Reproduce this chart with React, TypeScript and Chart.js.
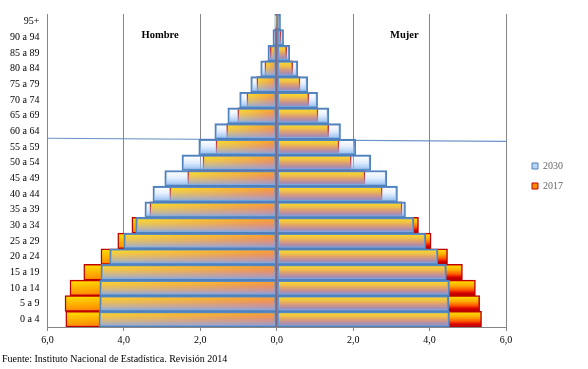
import { useEffect, useRef } from 'react';
import { Chart, registerables } from 'chart.js';

Chart.register(...registerables);

// ---- data (percent of total population) ----
const ageGroups = ['0 a 4', '5 a 9', '10 a 14', '15 a 19', '20 a 24', '25 a 29', '30 a 34', '35 a 39', '40 a 44', '45 a 49', '50 a 54', '55 a 59', '60 a 64', '65 a 69', '70 a 74', '75 a 79', '80 a 84', '85 a 89', '90 a 94', '95+'];
const hombres2017 = [5.52, 5.54, 5.41, 5.05, 4.60, 4.16, 3.79, 3.32, 2.80, 2.33, 1.93, 1.59, 1.31, 1.02, 0.78, 0.52, 0.31, 0.17, 0.05, 0.01];
const mujeres2017 = [5.36, 5.31, 5.20, 4.86, 4.47, 4.04, 3.71, 3.28, 2.76, 2.31, 1.95, 1.63, 1.36, 1.08, 0.84, 0.61, 0.42, 0.26, 0.11, 0.04];
const hombres2030 = [4.65, 4.63, 4.63, 4.60, 4.37, 4.00, 3.69, 3.45, 3.24, 2.93, 2.48, 2.04, 1.62, 1.28, 0.97, 0.68, 0.42, 0.23, 0.10, 0.05];
const mujeres2030 = [4.52, 4.50, 4.52, 4.44, 4.22, 3.90, 3.59, 3.37, 3.16, 2.88, 2.46, 2.07, 1.67, 1.36, 1.07, 0.81, 0.55, 0.34, 0.18, 0.10];
const seriesLabels = ['2030', '2017'];
const sideLabels = ['Hombre', 'Mujer'];
const sideLabelValues = [-3.05, 3.34];
const xMin = -6;
const xMax = 6;
const xStep = 2;
const sourceText = 'Fuente: Instituto Nacional de Estadística. Revisión 2014';

const FONT = '"Liberation Serif", "Times New Roman", serif';
const GRID = '#868686';

function geom(c: any) {
  if (!c || c.type !== 'data') return null;
  const chart = c.chart;
  const xs = chart.scales && chart.scales.x;
  const ys = chart.scales && chart.scales.y;
  if (!xs || !ys) return null;
  const yc = ys.getPixelForValue(c.dataIndex);
  const h = Math.abs(ys.getPixelForValue(1) - ys.getPixelForValue(0));
  const x0 = xs.getPixelForValue(0);
  const x1 = xs.getPixelForValue(c.raw);
  if (![yc, h, x0, x1].every((v) => Number.isFinite(v)) || h === 0) return null;
  return { yc, h, x0, x1, top: yc - h / 2, bottom: yc + h / 2 };
}

function bg2030(c: any) {
  const g = geom(c);
  if (!g) return 'rgba(150,190,240,0.5)';
  const grad = c.chart.ctx.createLinearGradient(0, g.top, 0, g.bottom);
  grad.addColorStop(0, 'rgba(235,243,255,0.08)');
  grad.addColorStop(0.45, 'rgba(185,212,250,0.38)');
  grad.addColorStop(0.8, 'rgba(145,188,240,0.75)');
  grad.addColorStop(1, 'rgba(125,175,238,0.9)');
  return grad;
}

function bgFemale2017(c: any) {
  const g = geom(c);
  if (!g) return '#ff9900';
  const grad = c.chart.ctx.createLinearGradient(0, g.top, 0, g.bottom);
  grad.addColorStop(0, '#ffe400');
  grad.addColorStop(0.35, '#ffb000');
  grad.addColorStop(0.62, '#ff5a00');
  grad.addColorStop(0.82, '#dd0000');
  grad.addColorStop(1, '#9c0000');
  return grad;
}

function bgMale2017(c: any) {
  const g = geom(c);
  if (!g) return '#ff8c00';
  const W = Math.max(1, Math.abs(g.x0 - g.x1));
  const cx = 0.45 / W;
  const cy = 0.55 / g.h;
  const d = cx * cx + cy * cy;
  const ax = Math.min(g.x0, g.x1);
  const ay = g.top;
  const grad = c.chart.ctx.createLinearGradient(ax, ay, ax + cx / d, ay + cy / d);
  grad.addColorStop(0, '#ffe400');
  grad.addColorStop(0.45, '#ff9c00');
  grad.addColorStop(0.75, '#ff5a18');
  grad.addColorStop(1, '#e41a1a');
  return grad;
}

const overlayPlugin = {
  id: 'overlay',
  afterDatasetsDraw(chart: any) {
    const { ctx, chartArea, scales } = chart;
    const x = scales.x;
    const y = scales.y;
    ctx.save();
    // vertical axis at 0
    const x0 = Math.round(x.getPixelForValue(0)) + 0.5;
    ctx.strokeStyle = GRID;
    ctx.lineWidth = 1;
    ctx.beginPath();
    ctx.moveTo(x0, chartArea.top);
    ctx.lineTo(x0, chartArea.bottom);
    ctx.stroke();
    // thin stray line across the plot
    ctx.strokeStyle = 'rgba(79,129,189,0.85)';
    ctx.lineWidth = 1.1;
    ctx.beginPath();
    ctx.moveTo(chartArea.left, y.getPixelForValue(11.56));
    ctx.lineTo(chartArea.right, y.getPixelForValue(11.36));
    ctx.stroke();
    // side labels
    ctx.font = 'bold 10.5px ' + FONT;
    ctx.fillStyle = '#000';
    ctx.textAlign = 'center';
    ctx.textBaseline = 'middle';
    sideLabels.forEach((t, i) => {
      ctx.fillText(t, x.getPixelForValue(sideLabelValues[i]), chartArea.top + 21);
    });
    ctx.restore();
  },
};

export default function App() {
  const ref = useRef<HTMLCanvasElement>(null);
  useEffect(() => {
    if (!ref.current) return;
    const chart = new Chart(ref.current, {
      type: 'bar',
      data: {
        labels: ageGroups,
        datasets: [
          {
            label: seriesLabels[0],
            data: hombres2030.map((v) => -v),
            backgroundColor: bg2030 as any,
            borderColor: '#4f81bd',
            borderWidth: 1.5,
            borderSkipped: false,
          },
          {
            label: seriesLabels[0] + ' M',
            data: mujeres2030,
            backgroundColor: bg2030 as any,
            borderColor: '#4f81bd',
            borderWidth: 1.5,
            borderSkipped: false,
          },
          {
            label: seriesLabels[1],
            data: hombres2017.map((v) => -v),
            backgroundColor: bgMale2017 as any,
            borderColor: '#c00000',
            borderWidth: 1.5,
            borderSkipped: false,
          },
          {
            label: seriesLabels[1] + ' M',
            data: mujeres2017,
            backgroundColor: bgFemale2017 as any,
            borderColor: '#c00000',
            borderWidth: 1.5,
            borderSkipped: false,
          },
        ],
      },
      options: {
        indexAxis: 'y',
        responsive: false,
        animation: false,
        devicePixelRatio: 1,
        datasets: { bar: { barPercentage: 1, categoryPercentage: 1 } },
        layout: { padding: { top: 10, bottom: 20, left: 2, right: 15 } },
        scales: {
          x: {
            min: xMin,
            max: xMax,
            ticks: {
              stepSize: xStep,
              color: '#000',
              padding: 3,
              font: { family: FONT, size: 10 },
              callback: (v: any) => Math.abs(Number(v)).toFixed(1).replace('.', ','),
            },
            grid: { color: GRID, lineWidth: 1, tickLength: 4, drawTicks: true },
            border: { display: true, color: GRID, width: 1 },
          },
          y: {
            stacked: true,
            reverse: true,
            ticks: { color: '#000', padding: 8, font: { family: FONT, size: 10 } },
            grid: { display: false, drawTicks: false },
            border: { display: false },
          },
          yGap: {
            type: 'category',
            position: 'right',
            ticks: { display: false },
            grid: { display: false, drawTicks: false },
            border: { display: false },
            afterFit: (s: any) => {
              s.width = 16;
            },
          },
        },
        plugins: {
          legend: {
            position: 'right',
            fullSize: false,
            title: { display: true, text: ' ', font: { size: 5 }, padding: 2.5 },
            labels: {
              boxWidth: 6,
              boxHeight: 6,
              padding: 10,
              color: '#000',
              font: { family: FONT, size: 10 },
              generateLabels: () => [
                { text: seriesLabels[0], fillStyle: '#b9d5f5', strokeStyle: '#4f81bd', lineWidth: 1, hidden: false, datasetIndex: 0 } as any,
                { text: seriesLabels[1], fillStyle: '#ff8c00', strokeStyle: '#c00000', lineWidth: 1, hidden: false, datasetIndex: 2 } as any,
              ],
            },
          },
          tooltip: { enabled: false },
        },
      } as any,
      plugins: [overlayPlugin],
    });
    return () => chart.destroy();
  }, []);

  return (
    <div style={{ position: 'absolute', left: 0, top: 0, width: 588, height: 369, background: '#fff' }}>
      <canvas ref={ref} width={588} height={369} style={{ display: 'block' }} />
      <div
        style={{
          position: 'absolute',
          left: 2,
          top: 353,
          font: '10px ' + FONT,
          color: '#000',
          whiteSpace: 'nowrap',
          lineHeight: '12px',
        }}
      >
        {sourceText}
      </div>
    </div>
  );
}
